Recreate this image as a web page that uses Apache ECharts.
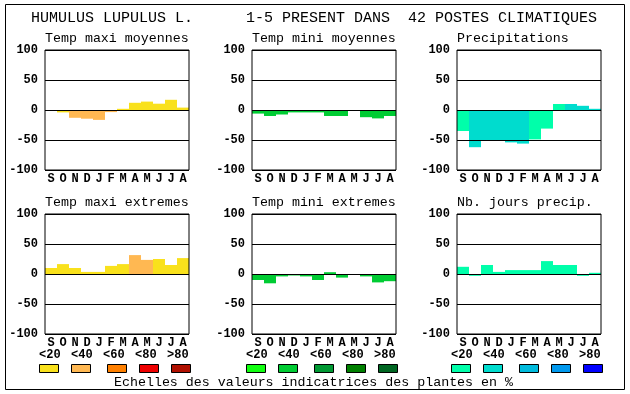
<!DOCTYPE html>
<html><head><meta charset="utf-8">
<script src="https://cdn.jsdelivr.net/npm/echarts@6/dist/echarts.min.js"></script>
<style>html,body{margin:0;padding:0;background:#fff}#c{width:630px;height:394px}</style>
</head><body><div id="c"></div>
<script>
// ---- data ----
var months = ['S','O','N','D','J','F','M','A','M','J','J','A'];
var yTicks = [-100, -50, 0, 50, 100];
var scaleLabels = ['<20','<40','<60','<80','>80'];
var panelTitles = ['Temp maxi moyennes','Temp mini moyennes','Precipitations','Temp maxi extremes','Temp mini extremes','Nb. jours precip.'];
var mainTitleLeft = 'HUMULUS LUPULUS L.';
var mainTitleRight = '1-5 PRESENT DANS  42 POSTES CLIMATIQUES';
var caption = 'Echelles des valeurs indicatrices des plantes en %';

var tmaxMoy    = [0, -4, -13, -14.5, -16.5, -3.5, 2, 12, 14, 10.5, 17, 4];
var tmaxMoyCls = [0, 0, 1, 1, 1, 1, 0, 0, 0, 0, 0, 0];
var tminMoy    = [-6, -10, -7.5, -4, -4, -4, -10, -10, 0, -12, -14, -10];
var tminMoyCls = [1, 1, 1, 1, 1, 1, 1, 1, 1, 1, 1, 1];
var precip     = [-35, -62, -50, -50, -54, -56, -49, -31, 10, 10, 7, 2];
var precipCls  = [0, 1, 1, 1, 1, 1, 0, 0, 0, 1, 1, 1];
var tmaxExt    = [10, 16.5, 10, 3.5, 3.5, 13.5, 16.5, 31.5, 23.5, 25, 15, 26.5];
var tmaxExtCls = [0, 0, 0, 0, 0, 0, 0, 1, 1, 0, 0, 0];
var tminExt    = [-10, -15.5, -4, -2.5, -4, -10, 3, -6, 0, -4, -14, -12];
var tminExtCls = [1, 1, 1, 1, 1, 1, 1, 1, 1, 1, 1, 1];
var nbJours    = [12, -3, 15, 3.5, 6.5, 6.5, 6.5, 21.5, 15, 15, -3, 2];
var nbJoursCls = [0, 0, 0, 0, 0, 0, 0, 0, 0, 0, 0, 0];

// ---- styles ----
var palTemp  = ['#F9E11C','#FFB852','#FF8000','#EE0000','#B01000'];
var palGreen = ['#11FF11','#00CC33','#009933','#008000','#006622'];
var palBlue  = ['#00FFAA','#00DCCE','#00BBDD','#0099EE','#0000FF'];
var FONT = '"Liberation Mono", "DejaVu Sans Mono", monospace';

var panels = [
  {vals: tmaxMoy, cls: tmaxMoyCls, pal: palTemp},
  {vals: tminMoy, cls: tminMoyCls, pal: palGreen},
  {vals: precip,  cls: precipCls,  pal: palBlue},
  {vals: tmaxExt, cls: tmaxExtCls, pal: palTemp},
  {vals: tminExt, cls: tminExtCls, pal: palGreen},
  {vals: nbJours, cls: nbJoursCls, pal: palBlue}
];
var lefts = [45, 252, 457];
var tops = [50, 214];
var W = 144, H = 120;

var grids = [], xAxes = [], yAxes = [], series = [], graphics = [];
panels.forEach(function(p, i){
  var col = i % 3, row = Math.floor(i / 3);
  var L = lefts[col], T = tops[row];
  grids.push({left: L, top: T, width: W, height: H, show: true, z: 10,
    borderColor: '#000', borderWidth: 1, backgroundColor: 'transparent'});
  xAxes.push({type: 'category', gridIndex: i, data: months, boundaryGap: true,
    axisLine: {show: false}, axisTick: {show: false}, splitLine: {show: false},
    axisLabel: {interval: 0, margin: 3, color: '#000', fontFamily: FONT, fontWeight: 'bold', fontSize: 12}});
  yAxes.push({type: 'value', gridIndex: i, min: yTicks[0], max: yTicks[yTicks.length-1], interval: 50, z: 8,
    axisLine: {show: false}, axisTick: {show: false},
    splitLine: {show: true, lineStyle: {color: '#000', width: 1}},
    axisLabel: {margin: 7, color: '#000', fontFamily: FONT, fontWeight: 'bold', fontSize: 12}});
  series.push({type: 'bar', xAxisIndex: i, yAxisIndex: i, barCategoryGap: '0%', barGap: '0%',
    z: 2, silent: true, animation: false,
    data: p.vals.map(function(v, k){ return {value: v, itemStyle: {color: p.pal[p.cls[k]]}}; })});
  graphics.push({type: 'text', left: L, top: T - 18, style: {text: panelTitles[i], font: '13.3px ' + FONT, fill: '#000'}});
});

// legend scales
var pals = [palTemp, palGreen, palBlue];
var boxOff = [-6, 26, 62, 94, 126];
var lblOff = [-6, 26, 58, 90, 122];
lefts.forEach(function(L, c){
  for (var k = 0; k < 5; k++) {
    graphics.push({type: 'rect', shape: {x: L + boxOff[k] + 0.5, y: 364.5, width: 19, height: 8},
      style: {fill: pals[c][k], stroke: '#000', lineWidth: 1}});
    graphics.push({type: 'text', left: L + lblOff[k], top: 348.5, style: {text: scaleLabels[k], font: 'bold 12px ' + FONT, fill: '#000'}});
  }
});

graphics.push({type: 'rect', shape: {x: 5.5, y: 4.5, width: 619, height: 385}, style: {fill: 'none', stroke: '#000', lineWidth: 1}, z: 20});
graphics.push({type: 'text', left: 31, top: 10.5, style: {text: mainTitleLeft, font: '15px ' + FONT, fill: '#000'}});
graphics.push({type: 'text', left: 246, top: 10.5, style: {text: mainTitleRight, font: '15px ' + FONT, fill: '#000'}});
graphics.push({type: 'text', left: 114, top: 376, style: {text: caption, font: '13.3px ' + FONT, fill: '#000'}});

var chart = echarts.init(document.getElementById('c'), null, {renderer: 'canvas'});
chart.setOption({
  backgroundColor: '#fff',
  animation: false,
  grid: grids, xAxis: xAxes, yAxis: yAxes, series: series,
  graphic: graphics
});
</script></body></html>
